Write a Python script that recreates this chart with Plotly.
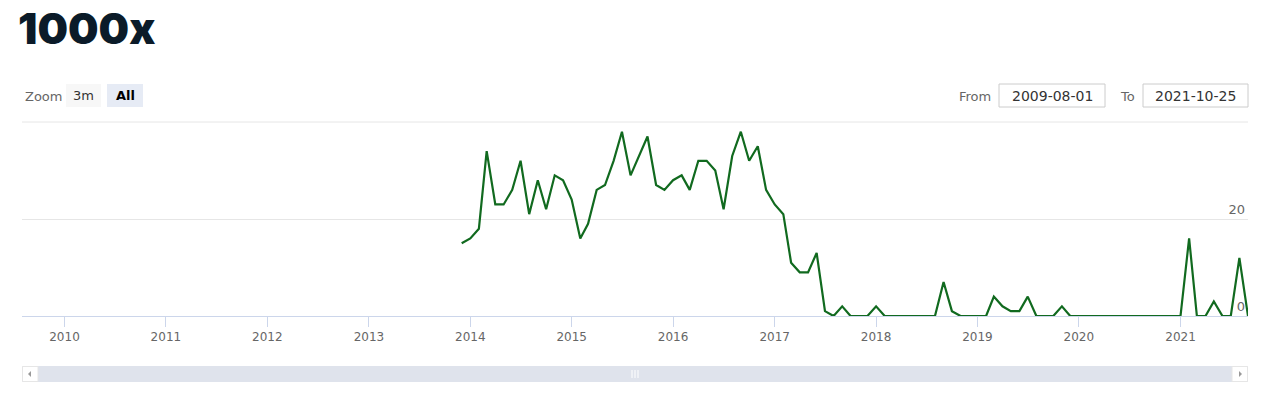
import pandas as pd
import plotly.graph_objects as go

# ---- data ----
start_month = "2013-12-01"
values = [
    15,                                              # 2013-12
    16, 18, 34, 23, 23, 26, 32, 21, 28, 22, 29, 28,  # 2014
    24, 16, 19, 26, 27, 32, 38, 29, 33, 37, 27, 26,  # 2015
    28, 29, 26, 32, 32, 30, 22, 33, 38, 32, 35, 26,  # 2016
    23, 21, 11, 9, 9, 13, 1, 0, 2, 0, 0, 0,          # 2017
    2, 0, 0, 0, 0, 0, 0, 0, 7, 1, 0, 0,              # 2018
    0, 0, 4, 2, 1, 1, 4, 0, 0, 0, 2, 0,              # 2019
    0, 0, 0, 0, 0, 0, 0, 0, 0, 0, 0, 0,              # 2020
    0, 16, 0, 0, 3, 0, 0, 12, 0,                     # 2021
]
dates = pd.date_range(start_month, periods=len(values), freq="MS")
year_ticks = [f"{y}-01-01" for y in range(2010, 2022)]
year_labels = [str(y) for y in range(2010, 2022)]
y_ticks = [0, 20, 40]
y_tick_labels = ["0", "20", ""]
x_range = ["2009-08-01", "2021-09-01"]
from_text = "2009-08-01"
to_text = "2021-10-25"

# ---- layout geometry (pixels) ----
W, H = 1280, 400
L, R, T, B = 22, 1248, 122, 316


def px(x):
    return (x - L) / (R - L)


def py(y):
    return (B - y) / (B - T)


fig = go.Figure()
fig.add_trace(go.Scatter(
    x=dates, y=values, mode="lines",
    line=dict(color="#116a1f", width=2.2),
    hoverinfo="x+y", showlegend=False,
))

shapes = []
annotations = []

# top gridline (value 40) at the plot edge
shapes.append(dict(type="line", xref="paper", yref="paper",
                   x0=0, x1=1, y0=1, y1=1,
                   line=dict(color="#e6e6e6", width=1), layer="below"))


def rect(x0, y0, x1, y1, fill, line=None, lw=1):
    shapes.append(dict(type="rect", xref="paper", yref="paper",
                       x0=px(x0), x1=px(x1), y0=py(y1), y1=py(y0),
                       fillcolor=fill,
                       line=dict(color=line or fill, width=lw if line else 0),
                       layer="above"))


def text(x, y, s, size=13, color="#333333", anchor="left", weight="normal",
         family="DejaVu Sans"):
    annotations.append(dict(xref="paper", yref="paper", x=px(x), y=py(y),
                            text=s, showarrow=False, xanchor=anchor,
                            yanchor="middle",
                            font=dict(size=size, color=color, family=family,
                                      weight=weight)))


# logo
text(16, 28, "1000x", size=43, color="#0b1b29", weight=900, family="Inter")

# range selector
text(23, 96, "Zoom", size=13, color="#666666")
rect(66, 84, 101, 107, "#f7f7f7")
text(83.5, 95, "3m", size=13, color="#333333", anchor="center")
rect(107, 84, 143, 107, "#e6ebf5")
text(125, 95, "<b>All</b>", size=13, color="#000000", anchor="center")

# range inputs
text(957, 96, "From", size=13, color="#666666")
rect(999, 84, 1105, 107, "#ffffff", line="#cccccc")
text(1052, 96, from_text, size=14, color="#333333", anchor="center")
text(1118, 96, "To", size=13, color="#666666")
rect(1143, 84, 1248, 107, "#ffffff", line="#cccccc")
text(1195.5, 96, to_text, size=14, color="#333333", anchor="center")

# scrollbar
rect(22, 366, 1248, 382, "#dfe3ec")
rect(22.5, 366.5, 38, 381.5, "#ffffff", line="#e6e6e6")
rect(1232, 366.5, 1247.5, 381.5, "#ffffff", line="#e6e6e6")
shapes.append(dict(type="path", xref="paper", yref="paper",
                   path=f"M {px(28)} {py(374)} L {px(31)} {py(371)} L {px(31)} {py(377)} Z",
                   fillcolor="#999999", line=dict(width=0), layer="above"))
shapes.append(dict(type="path", xref="paper", yref="paper",
                   path=f"M {px(1242)} {py(374)} L {px(1239)} {py(371)} L {px(1239)} {py(377)} Z",
                   fillcolor="#999999", line=dict(width=0), layer="above"))
for gx in (632, 635, 638):
    shapes.append(dict(type="line", xref="paper", yref="paper",
                       x0=px(gx), x1=px(gx), y0=py(370), y1=py(378),
                       line=dict(color="#ffffff", width=1), layer="above"))

fig.update_layout(
    width=W, height=H,
    margin=dict(l=L, r=W - R, t=T, b=H - B),
    paper_bgcolor="#ffffff", plot_bgcolor="#ffffff",
    font=dict(family="DejaVu Sans", color="#666666", size=12),
    shapes=shapes, annotations=annotations,
    xaxis=dict(
        type="date", range=x_range,
        tickvals=year_ticks, ticktext=year_labels,
        showgrid=False, showline=True, linecolor="#ccd6eb", linewidth=1,
        ticks="outside", ticklen=10, tickcolor="#ccd6eb", tickwidth=1,
        tickfont=dict(size=12, color="#666666"),
        zeroline=False, fixedrange=True,
    ),
    yaxis=dict(
        range=[0, 40], side="right",
        tickvals=y_ticks, ticktext=y_tick_labels,
        ticklabelposition="inside top",
        showgrid=True, gridcolor="#e6e6e6", gridwidth=1,
        zeroline=False, showline=False, ticks="",
        tickfont=dict(size=13, color="#666666"),
        fixedrange=True,
    ),
)

fig.write_html("out.html")
